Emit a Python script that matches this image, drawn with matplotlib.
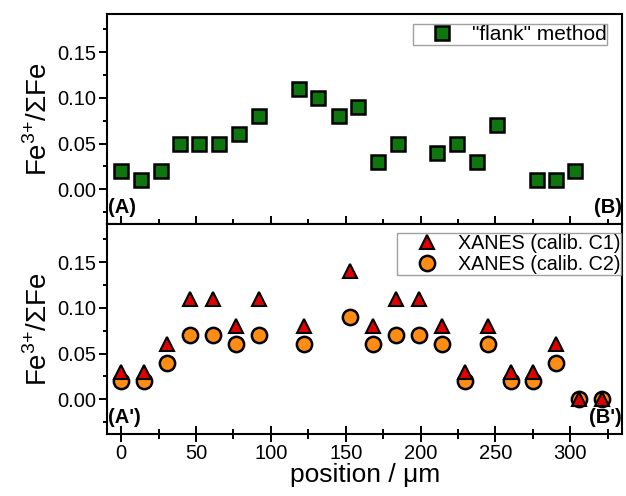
import matplotlib
matplotlib.use("Agg")
import matplotlib.pyplot as plt
from matplotlib.ticker import MultipleLocator, FormatStrFormatter

plt.rcParams['font.family'] = ['Liberation Sans', 'DejaVu Sans']
plt.rcParams['mathtext.fontset'] = 'custom'
plt.rcParams['mathtext.rm'] = 'Liberation Sans'

# ---- data ----
flank_pos = [0, 13.4, 26.7, 39.4, 52.1, 65.5, 79.0, 92.4, 118.9, 131.8, 145.2,
             158.1, 171.5, 184.8, 211.3, 224.3, 237.6, 251.0, 277.7, 290.4, 303.3]
flank_val = [0.02, 0.01, 0.02, 0.05, 0.05, 0.05, 0.06, 0.08, 0.11, 0.10, 0.08,
             0.09, 0.03, 0.05, 0.04, 0.05, 0.03, 0.07, 0.01, 0.01, 0.02]

xanes_pos = [0, 15.3, 30.6, 45.9, 61.2, 76.5, 91.8, 122.4, 153.0, 168.3, 183.6,
             198.9, 214.2, 229.5, 244.8, 260.1, 275.4, 290.7, 306.0, 321.3]
xanes_c1 = [0.03, 0.03, 0.06, 0.11, 0.11, 0.08, 0.11, 0.08, 0.14, 0.08, 0.11,
            0.11, 0.08, 0.03, 0.08, 0.03, 0.03, 0.06, 0.00, 0.00]
xanes_c2 = [0.02, 0.02, 0.04, 0.07, 0.07, 0.06, 0.07, 0.06, 0.09, 0.06, 0.07,
            0.07, 0.06, 0.02, 0.06, 0.02, 0.02, 0.04, 0.00, 0.00]

xticks = [0, 50, 100, 150, 200, 250, 300]
yticks = [0.00, 0.05, 0.10, 0.15]

fig = plt.figure(figsize=(6.26, 4.96), dpi=100)
gs = fig.add_gridspec(2, 1, left=0.171, right=0.994, top=0.972, bottom=0.125, hspace=0)
ax1 = fig.add_subplot(gs[0])
ax2 = fig.add_subplot(gs[1], sharex=ax1)

ylabel = 'Fe$^{3{+}}$/ΣFe'

for ax in (ax1, ax2):
    ax.set_xlim(-9.4, 334.7)
    ax.set_ylim(-0.038, 0.192)
    ax.set_yticks(yticks)
    ax.yaxis.set_minor_locator(MultipleLocator(0.025))
    ax.set_xticks(xticks)
    ax.xaxis.set_minor_locator(MultipleLocator(25))
    for s in ax.spines.values():
        s.set_linewidth(1.5)
    ax.tick_params(axis='x', which='major', direction='inout', length=11, width=1.4,
                   top=False, labelsize=14.5, pad=2)
    ax.tick_params(axis='x', which='minor', direction='inout', length=7, width=1.4, top=False)
    ax.tick_params(axis='y', which='major', direction='out', length=5.5, width=1.4,
                   right=False, labelsize=14.5, pad=2)
    ax.tick_params(axis='y', which='minor', direction='out', length=3, width=1.4, right=False)
    ax.set_ylabel(ylabel, fontsize=20, labelpad=3)
    ax.yaxis.set_major_formatter(FormatStrFormatter('%.2f'))

ax1.tick_params(axis='x', labelbottom=False)

ax1.plot(flank_pos, flank_val, linestyle='none', marker='s', markersize=10.5,
         markerfacecolor='#0f760f', markeredgecolor='black', markeredgewidth=1.8,
         label='"flank" method', zorder=3, clip_on=False)

ax2.plot(xanes_pos, xanes_c2, linestyle='none', marker='o', markersize=11,
         markerfacecolor='#ff8c14', markeredgecolor='black', markeredgewidth=1.8,
         label='XANES (calib. C2)', zorder=3)
ax2.plot(xanes_pos, xanes_c1, linestyle='none', marker='^', markersize=10,
         markerfacecolor='#e00000', markeredgecolor='black', markeredgewidth=1.5,
         label='XANES (calib. C1)', zorder=4)

leg1 = ax1.legend(loc='upper right', bbox_to_anchor=(0.971, 0.951), fontsize=15,
                  frameon=True, fancybox=False, edgecolor='#8a8a8a', borderpad=0.05,
                  handletextpad=0.05, borderaxespad=0, handlelength=2.7)
leg1.get_frame().set_linewidth(1.0)

h, l = ax2.get_legend_handles_labels()
leg2 = ax2.legend([h[1], h[0]], [l[1], l[0]], loc='upper right',
                  bbox_to_anchor=(0.998, 0.958), fontsize=14.2,
                  frameon=True, fancybox=False, edgecolor='#8a8a8a', borderpad=0.05,
                  handletextpad=0.05, borderaxespad=0, handlelength=3.0,
                  labelspacing=0.1)
leg2.get_frame().set_linewidth(1.0)

ax1.text(0.001, 0.035, '(A)', transform=ax1.transAxes, fontsize=14.5,
         fontweight='bold', ha='left', va='bottom')
ax1.text(0.999, 0.035, '(B)', transform=ax1.transAxes, fontsize=14.5,
         fontweight='bold', ha='right', va='bottom')
ax2.text(0.001, 0.035, "(A')", transform=ax2.transAxes, fontsize=14.5,
         fontweight='bold', ha='left', va='bottom')
ax2.text(0.999, 0.035, "(B')", transform=ax2.transAxes, fontsize=14.5,
         fontweight='bold', ha='right', va='bottom')

ax2.set_xlabel('position / μm', fontsize=19, labelpad=0)
fig.align_ylabels([ax1, ax2])

fig.savefig('out.png', dpi=100)
